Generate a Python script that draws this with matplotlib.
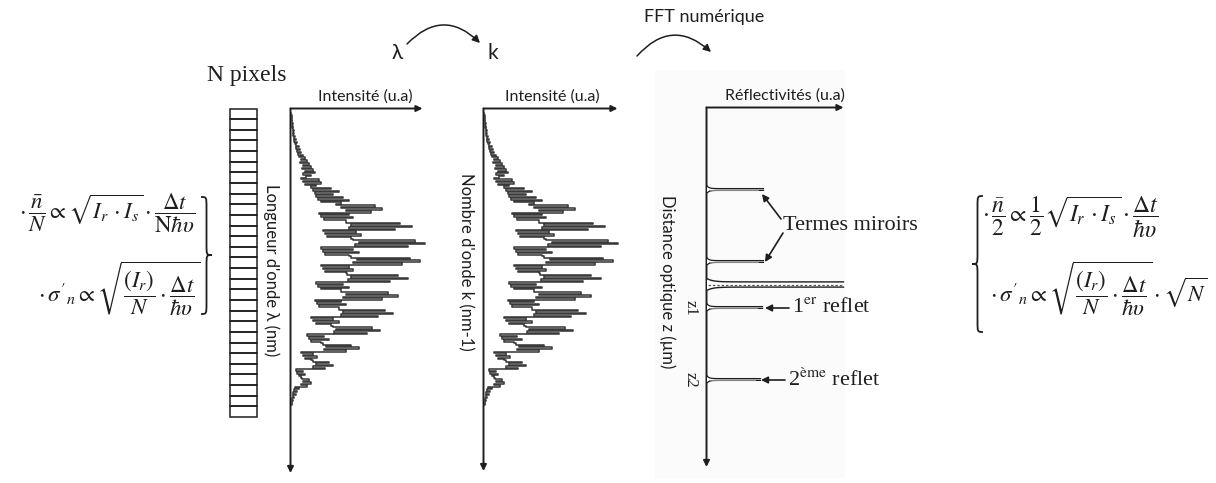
import numpy as np
import matplotlib
matplotlib.use("Agg")
import matplotlib.pyplot as plt
from matplotlib.path import Path
from matplotlib.patches import PathPatch, Rectangle

plt.rcParams["mathtext.fontset"] = "stix"

W, H = 1216, 483
INK = "#1e1e1e"
SANS = "Lato"
SERIF = "Liberation Serif"

# ---- data -------------------------------------------------------------
n_pixels = 29

# interference spectrum: intensity (px from the axis), read top -> bottom
spectrum = [
    # weak leading edge
    0, 0, 1, 0, 1, 0, 1, 2, 1, 2, 1, 2, 3, 2, 3, 2, 4, 3, 5, 3,
    6, 4, 5, 8, 5, 9, 6, 10, 7, 12, 8, 14, 10, 16, 9, 18, 12, 20, 11, 22,
    14, 24, 12, 20, 15,
    # fringes
    10, 28, 12, 30, 14, 25, 20, 40, 22, 48, 24, 42,
    25, 52, 27, 58, 30, 50, 45, 85, 50, 92, 55, 80,
    28, 58, 30, 62, 33, 55, 55, 110, 60, 122, 58, 105,
    32, 65, 34, 70, 36, 60, 62, 125, 68, 135, 64, 118,
    30, 62, 32, 68, 34, 58, 60, 120, 66, 130, 62, 112,
    30, 58, 32, 62, 34, 55, 56, 108, 60, 118, 57, 100,
    25, 52, 27, 58, 30, 50, 50, 98, 55, 108, 52, 92,
    24, 50, 26, 55, 28, 48, 48, 95, 52, 103, 50, 88,
    20, 42, 22, 48, 25, 40, 42, 82, 45, 90, 43, 76,
    16, 33, 18, 38, 20, 30, 32, 60, 35, 68, 33, 55,
    10, 22, 12, 26, 14, 20, 22, 38, 25, 42, 22, 34,
    5, 12, 6, 14, 8, 10, 11, 18, 12, 20, 10, 16,
    # trailing edge
    4, 8, 3, 6, 2, 5, 2, 3, 1, 2, 1, 0, 1, 0,
]

# FFT result: peak depth (px below the axis origin) and height (px)
peak_pos = [82, 154, 177, 200, 272]
peak_height = [57, 57, 137, 56, 54]
peak_kind = ["miroir", "miroir", "dc", "reflet", "reflet"]
z_labels = ["z1", "z2"]
z_label_pos = [200, 272]

# ---- layout (px) ------------------------------------------------------
panels = [  # x of vertical axis, top, bottom, length of intensity axis
    dict(x=290.5, top=108.5, bottom=473, length=132,
         xlabel="Intensité (u.a)", xlabel_x=365, ylabel="Longueur d'onde λ (nm)",
         ylabel_x=271, ylabel_y=270),
    dict(x=483.5, top=108.5, bottom=471, length=134,
         xlabel="Intensité (u.a)", xlabel_x=552, ylabel="Nombre d'onde k (nm-1)",
         ylabel_x=466, ylabel_y=262),
    dict(x=706.5, top=107.5, bottom=467, length=137,
         xlabel="Réflectivités (u.a)", xlabel_x=785, ylabel="Distance optique z (µm)",
         ylabel_x=667, ylabel_y=282),
]
spec_start, spec_step = 4.0, 1.45


def px_axes(fig, x0, y0, x1, y1):
    a = fig.add_axes([x0 / W, 1 - y1 / H, (x1 - x0) / W, (y1 - y0) / H])
    a.set_xlim(0, x1 - x0)
    a.set_ylim(y1 - y0, 0)
    a.set_axis_off()
    a.patch.set_alpha(0)
    return a


def brace(ax, x, y0, y1, w, ym, d=1, lw=1.3):
    h = d * w / 2
    c = abs(w) * 1.0
    verts = [(x, y0), (x + h, y0), (x + h, y0), (x + h, y0 + c),
             (x + h, ym - c),
             (x + h, ym), (x + h, ym), (x + d * w, ym),
             (x + h, ym), (x + h, ym), (x + h, ym + c),
             (x + h, y1 - c),
             (x + h, y1), (x + h, y1), (x, y1)]
    codes = [Path.MOVETO, Path.CURVE4, Path.CURVE4, Path.CURVE4, Path.LINETO,
             Path.CURVE4, Path.CURVE4, Path.CURVE4,
             Path.CURVE4, Path.CURVE4, Path.CURVE4, Path.LINETO,
             Path.CURVE4, Path.CURVE4, Path.CURVE4]
    ax.add_patch(PathPatch(Path(verts, codes), fill=False, lw=lw, ec=INK))


def arrow(ax, start, end, lw=1.3, ms=10, rad=0.0, head="-|>"):
    ax.annotate("", xy=end, xytext=start,
                arrowprops=dict(arrowstyle=head, lw=lw, color=INK, mutation_scale=ms,
                                shrinkA=0, shrinkB=0,
                                connectionstyle=f"arc3,rad={rad}"))


fig = plt.figure(figsize=(W / 100, H / 100), dpi=100)
fig.patch.set_facecolor("white")
ov = fig.add_axes([0, 0, 1, 1])
ov.set_xlim(0, W)
ov.set_ylim(H, 0)
ov.set_axis_off()

# faint frame behind the FFT panel
ov.add_patch(Rectangle((655, 70), 190, 408, fc="#fbfbfb", ec="none", zorder=0))

# ---- top annotations --------------------------------------------------
ov.text(397, 53, "λ", family=SANS, fontsize=15, ha="center", va="center", color=INK)
ov.text(493, 53, "k", family=SANS, fontsize=15, ha="center", va="center", color=INK)
arrow(ov, (407, 44), (480, 43), lw=1.1, ms=11, rad=-0.5)
ov.text(704, 17, "FFT numérique", family=SANS, fontsize=13, ha="center", va="center",
        color=INK)
arrow(ov, (637, 56), (711, 52), lw=1.1, ms=11, rad=-0.5)
ov.text(247, 75, "N pixels", family=SERIF, fontsize=17, ha="center", va="center",
        color=INK)

# ---- pixel column -----------------------------------------------------
pc = px_axes(fig, 229.5, 108.5, 256.5, 417)
pc.set_xlim(0, 1)
pc.set_ylim(n_pixels - 0.5, -0.5)
bars = pc.barh(np.arange(n_pixels), 1, height=1, left=0, fill=False, edgecolor=INK,
               linewidth=1.1)
for b in bars:
    b.set_clip_on(False)

# ---- panel axes, labels -----------------------------------------------
for p in panels:
    arrow(ov, (p["x"], p["top"]), (p["x"], p["bottom"]), lw=1.4, ms=9)
    arrow(ov, (p["x"], p["top"]), (p["x"] + p["length"], p["top"]), lw=1.4, ms=9)
    ov.text(p["xlabel_x"], p["top"] - 12, p["xlabel"], family=SANS, fontsize=11.5,
            ha="center", va="center", color=INK)
    ov.text(p["ylabel_x"], p["ylabel_y"], p["ylabel"], family=SANS, fontsize=12,
            rotation=-90, ha="center", va="center", color=INK)

# ---- spectra (lambda and k panels) ------------------------------------
idx = np.arange(len(spectrum))
for p in panels[:2]:
    ax = px_axes(fig, p["x"], p["top"], p["x"] + 140, p["bottom"])
    ax.set_ylim((p["bottom"] - p["top"] - spec_start) / spec_step, -spec_start / spec_step)
    ax.plot(spectrum, idx, color="#3a3a3a", lw=1.15, drawstyle="steps-pre")

# ---- FFT peaks --------------------------------------------------------
p3 = panels[2]
fx = px_axes(fig, p3["x"], p3["top"], p3["x"] + 145, p3["bottom"])
for pos, h, kind in zip(peak_pos, peak_height, peak_kind):
    x = np.linspace(0, h, 80)
    if kind == "dc":
        hw = 2.6 + 3.5 * np.exp(-x / 6)
        fx.fill_between(x, pos - hw, pos + hw, color="white", lw=0)
        fx.plot(x, pos - hw, color=INK, lw=1.0)
        fx.plot(x, pos + hw, color=INK, lw=1.0)
        fx.plot([1, h], [pos, pos], color="#555555", lw=0.9, ls=(0, (2, 1.5)))
    else:
        hw = 0.9 + 3.4 * np.exp(-x / 2.2)
        fx.fill_between(x, pos - hw, pos + hw, color="white", lw=0)
        fx.plot(x, pos - hw, color=INK, lw=0.9)
        fx.plot(x, pos + hw, color=INK, lw=0.9)
        fx.plot([2, h * 0.9], [pos, pos], color="#888888", lw=0.7)

for lab, pos in zip(z_labels, z_label_pos):
    ov.text(p3["x"] - 16, p3["top"] + pos, lab, family=SERIF, fontsize=12,
            rotation=-90, ha="center", va="center", color=INK)

# ---- FFT annotations --------------------------------------------------
ov.text(783, 225, "Termes miroirs", family=SERIF, fontsize=16, ha="left", va="center",
        color=INK)
arrow(ov, (781, 219), (762, 194), lw=1.2, ms=10)
arrow(ov, (783, 233), (765, 262), lw=1.2, ms=10)
arrow(ov, (789, 308), (765, 308), lw=1.2, ms=10)
arrow(ov, (785, 380), (761, 380), lw=1.2, ms=10)
ov.text(792, 308, r"1$^{\mathrm{er}}$ reflet", family=SERIF, fontsize=16, ha="left",
        va="center", color=INK)
ov.text(788, 380, r"2$^{\mathrm{ème}}$ reflet", family=SERIF, fontsize=16, ha="left",
        va="center", color=INK)

# ---- formulas ---------------------------------------------------------
sig = r"\sigma^{\prime}{}_{n}"
eq_left_1 = r"$\cdot\,\dfrac{\bar{n}}{N}\propto\sqrt{I_r\,\cdot I_s}\cdot\dfrac{\Delta t}{\mathrm{N}\hbar\upsilon}$"
eq_left_2 = r"$\cdot\," + sig + r"\propto\sqrt{\dfrac{(I_r)}{N}\cdot\dfrac{\Delta t}{\hbar\upsilon}}$"
eq_right_1 = r"$\cdot\,\dfrac{\bar{n}}{2}\propto\dfrac{1}{2}\sqrt{I_r\,\cdot I_s}\cdot\dfrac{\Delta t}{\hbar\upsilon}$"
eq_right_2 = r"$\cdot\," + sig + r"\propto\sqrt{\dfrac{(I_r)}{N}\cdot\dfrac{\Delta t}{\hbar\upsilon}}\cdot\sqrt{N}$"

ov.text(195, 213, eq_left_1, fontsize=16.5, ha="right", va="center", color=INK)
ov.text(200, 289, eq_left_2, fontsize=16.5, ha="right", va="center", color=INK)
brace(ov, 201, 197, 314, 11, 255, d=1)

ov.text(982, 217, eq_right_1, fontsize=17, ha="left", va="center", color=INK)
ov.text(990, 289, eq_right_2, fontsize=16.5, ha="left", va="center", color=INK)
brace(ov, 983, 196, 332, 11, 264, d=-1)

fig.savefig("out.png", dpi=100, facecolor="white")
